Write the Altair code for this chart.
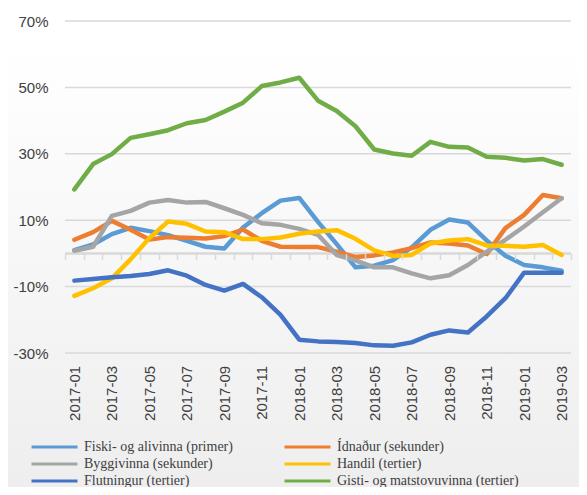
import altair as alt
import pandas as pd

months = ["2017-01", "2017-02", "2017-03", "2017-04", "2017-05", "2017-06", "2017-07",
          "2017-08", "2017-09", "2017-10", "2017-11", "2017-12", "2018-01", "2018-02",
          "2018-03", "2018-04", "2018-05", "2018-06", "2018-07", "2018-08", "2018-09",
          "2018-10", "2018-11", "2018-12", "2019-01", "2019-02", "2019-03"]

series_names = ["Fiski- og alivinna (primer)", "Ídnaður (sekunder)",
                "Byggivinna (sekunder)", "Handil (tertier)",
                "Flutningur (tertier)", "Gisti- og matstovuvinna (tertier)"]
series_colors = ["#5B9BD5", "#ED7D31", "#A5A5A5", "#FFC000", "#4472C4", "#70AD47"]

fiski = [1.0, 2.7, 5.8, 7.7, 6.7, 5.5, 3.8, 2.0, 1.5, 7.8, 12.1, 15.9, 16.7, 9.5,
         2.8, -4.2, -3.7, -2.0, 1.8, 7.1, 10.2, 9.3, 3.9, -0.7, -3.5, -4.2, -5.2]
idnadur = [4.1, 6.4, 9.8, 7.1, 4.2, 4.9, 4.7, 4.5, 5.2, 7.2, 3.8, 2.0, 1.9, 1.9,
           0.5, -1.1, -0.6, 0.3, 1.6, 3.3, 3.0, 2.4, -0.2, 7.6, 11.6, 17.6, 16.6]
byggi = [0.8, 2.0, 11.3, 12.8, 15.3, 16.1, 15.3, 15.5, 13.6, 11.6, 9.1, 8.6, 7.4, 5.6,
         -0.5, -2.1, -4.2, -4.2, -6.0, -7.5, -6.6, -3.5, 0.5, 4.1, 8.1, 12.4, 16.6]
handil = [-12.8, -10.5, -7.5, -1.8, 4.6, 9.6, 8.9, 6.6, 6.4, 4.3, 4.3, 4.8, 5.9, 6.6,
          7.0, 4.4, 0.9, -0.75, -0.45, 3.0, 3.9, 4.3, 2.4, 2.3, 2.0, 2.5, -0.45]
flutningur = [-8.2, -7.7, -7.2, -6.8, -6.2, -5.1, -6.7, -9.5, -11.2, -9.2, -13.2, -18.5,
              -26.0, -26.5, -26.7, -27.0, -27.7, -27.8, -26.8, -24.5, -23.2, -23.8,
              -19.0, -13.5, -5.8, -5.8, -5.8]
gisti = [19.3, 26.9, 29.9, 34.8, 35.9, 37.1, 39.2, 40.2, 42.7, 45.4, 50.4, 51.5, 52.9,
         46.0, 42.9, 38.3, 31.3, 30.1, 29.4, 33.6, 32.1, 31.9, 29.1, 28.8, 28.0, 28.4, 26.7]

y_ticks = [-30, -10, 10, 30, 50, 70]

all_values = [fiski, idnadur, byggi, handil, flutningur, gisti]
rows = []
for name, vals in zip(series_names, all_values):
    for m, v in zip(months, vals):
        rows.append({"month": m, "value": v, "series": name})
df = pd.DataFrame(rows)
grid_df = pd.DataFrame({"value": y_ticks})

# legend is filled column by column: order entries so rows read as in the original
legend_order = [0, 2, 4, 1, 3, 5]
legend_names = [series_names[i] for i in legend_order]
legend_colors = [series_colors[i] for i in legend_order]

W, H = 506, 332
PL, PT, PR, PB = 57, 13, 8, 134
yscale = alt.Scale(domain=[-30, 70], nice=False, zero=False)
zero_offset = -(H - H * 70 / 100)

yaxis = alt.Axis(title=None, values=y_ticks, labelExpr="datum.value + '%'",
                 grid=False, domain=False, ticks=False, labelPadding=17,
                 labelFont="Liberation Sans", labelFontSize=15,
                 labelColor="#404040", zindex=1)

grad = alt.LinearGradient(
    gradient="linear",
    stops=[alt.GradientStop(color="#ffffff", offset=0),
           alt.GradientStop(color="#ffffff", offset=0.08),
           alt.GradientStop(color="#eeeeee", offset=1)],
    x1=0, x2=0, y1=0, y2=1)

bg = alt.Chart(alt.Data(values=[{"k": 1}])).mark_rect(color=grad).encode(
    x=alt.value(-PL), x2=alt.value(W + PR), y=alt.value(-PT), y2=alt.value(H + PB))

grid = alt.Chart(grid_df).mark_rule(color="#d9d9d9", strokeWidth=1.5).encode(
    y=alt.Y("value:Q", scale=yscale, axis=yaxis),
    x=alt.value(0), x2=alt.value(W))

zero = alt.Chart(grid_df).mark_rule(color="#d9d9d9", strokeWidth=1.5).encode(
    y=alt.datum(0, scale=yscale, axis=yaxis), x=alt.value(0), x2=alt.value(W))

lines = alt.Chart(df).mark_line(strokeWidth=4.5, strokeCap="round", strokeJoin="round").encode(
    x=alt.X("month:O", sort=months,
            scale=alt.Scale(type="band", paddingInner=0, paddingOuter=0),
            axis=alt.Axis(title=None, labelAngle=-90, labelOverlap=False,
                          labelExpr="toNumber(substring(datum.value,5,7)) % 2 == 1 ? datum.value : ''",
                          domain=False, ticks=True, tickBand="extent", tickSize=6,
                          tickColor="#d9d9d9", tickWidth=1.5, offset=zero_offset,
                          labelPadding=106, labelFont="Liberation Sans", labelFontSize=15,
                          labelColor="#404040", grid=False, zindex=1)),
    y=alt.Y("value:Q", scale=yscale, axis=yaxis),
    color=alt.Color("series:N",
                    scale=alt.Scale(domain=legend_names, range=legend_colors),
                    legend=alt.Legend(orient="none", legendX=-35, legendY=417.5, columns=2,
                                      title=None, symbolType="stroke", symbolSize=2116,
                                      symbolStrokeWidth=3, labelFont="Liberation Serif",
                                      labelFontSize=14, labelColor="#404040",
                                      columnPadding=50, rowPadding=0, clipHeight=17,
                                      labelOffset=5, padding=0, labelLimit=0, zindex=1)),
)

chart = alt.layer(bg, grid, zero, lines).properties(
    width=W, height=H,
    autosize=alt.AutoSizeParams(type="none"),
    padding={"left": PL, "top": PT, "right": PR, "bottom": PB},
).configure_view(stroke=None)

chart.save("out.html", embed_options={"renderer": "svg", "actions": False})
